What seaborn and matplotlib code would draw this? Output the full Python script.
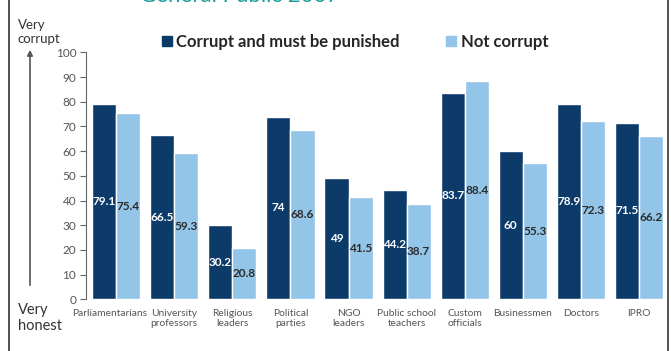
import pandas as pd
import matplotlib.pyplot as plt
import matplotlib.patches as mpatches
import matplotlib.transforms as mtransforms
import seaborn as sns

categories = ['Parliamentarians', 'University\nprofessors', 'Religious\nleaders', 'Political\nparties',
              'NGO\nleaders', 'Public school\nteachers', 'Custom\nofficials', 'Businessmen',
              'Doctors', 'IPRO']
corrupt = [79.1, 66.5, 30.2, 74, 49, 44.2, 83.7, 60, 78.9, 71.5]
not_corrupt = [75.4, 59.3, 20.8, 68.6, 41.5, 38.7, 88.4, 55.3, 72.3, 66.2]
series = ['Corrupt and must be punished', 'Not corrupt']
yticks = list(range(0, 101, 10))

DARK = '#0c3b69'
LIGHT = '#93c5e9'
GRAY = '#555555'

df = pd.DataFrame({
    'Group': categories * 2,
    'Series': [series[0]] * len(categories) + [series[1]] * len(categories),
    'Value': corrupt + not_corrupt,
})

sns.set_style('white')
plt.rcParams['font.family'] = ['Lato', 'DejaVu Sans']

fig = plt.figure(figsize=(6.71, 3.51), dpi=100)
ax = fig.add_axes([86 / 671, 1 - 299.3 / 351, 582 / 671, 247 / 351])

sns.barplot(data=df, x='Group', y='Value', hue='Series', order=categories, hue_order=series,
            palette=[DARK, LIGHT], width=0.83, gap=0, saturation=1, ax=ax, legend=False)

# value labels in the middle of each bar
for container, col in zip(ax.containers, ['white', '#2b2b2b']):
    vals = [b.get_height() for b in container]
    ax.bar_label(container, labels=[f'{v:g}' for v in vals], label_type='center',
                 color=col, fontsize=8.5, fontweight='bold')

ax.set_xlim(-0.52, 9.5)
ax.set_ylim(0, 100)
ax.set_yticks(yticks)
ax.set_xlabel('')
ax.set_ylabel('')
sns.despine(ax=ax, top=True, right=True, bottom=True)
ax.spines['left'].set_color('#666666')
ax.tick_params(axis='y', direction='out', length=4, color='#666666', labelsize=8.5,
               labelcolor=GRAY, left=True, pad=3)
ax.tick_params(axis='x', length=0, labelsize=7.4, labelcolor=GRAY, pad=7)
for lab in ax.get_xticklabels():
    lab.set_linespacing(1.15)
# the first long label sits a little to the left, as in the original slide
first = ax.get_xticklabels()[0]
first.set_transform(first.get_transform() + mtransforms.ScaledTranslation(-7 / 100, 0, fig.dpi_scale_trans))

# legend
handles = [mpatches.Patch(color=DARK, label=series[0]), mpatches.Patch(color=LIGHT, label=series[1])]
fig.legend(handles=handles, loc='center', bbox_to_anchor=(355 / 671, 1 - 42 / 351), ncol=2,
           frameon=False, handlelength=0.6, handleheight=0.6, handletextpad=0.25,
           columnspacing=2.8, prop={'weight': 'bold', 'size': 12})

# side annotations
fig.text(18 / 671, 1 - 32 / 351, 'Very\ncorrupt', fontsize=9.5, color='#333333', va='center',
         ha='left', linespacing=1.2)
fig.text(18 / 671, 1 - 318 / 351, 'Very\nhonest', fontsize=10.5, color='#333333', va='center',
         ha='left', linespacing=1.2)
fig.patches.append(mpatches.FancyArrowPatch((30 / 671, 1 - 288 / 351), (30 / 671, 1 - 47 / 351),
                                            transform=fig.transFigure, arrowstyle='-|>',
                                            mutation_scale=8, color='#555555', lw=1.2))

# partly cut title at the top
fig.text(140 / 671, 1 - 2 / 351, 'General Public 2007', fontsize=16, color='#1a9e9e',
         ha='left', va='baseline')

# frame lines of the slide
for xp in (8.5, 668):
    fig.add_artist(plt.Line2D([xp / 671, xp / 671], [0, 1], transform=fig.transFigure,
                              color='#333333', lw=1.2))

fig.savefig('out.png', dpi=100)
